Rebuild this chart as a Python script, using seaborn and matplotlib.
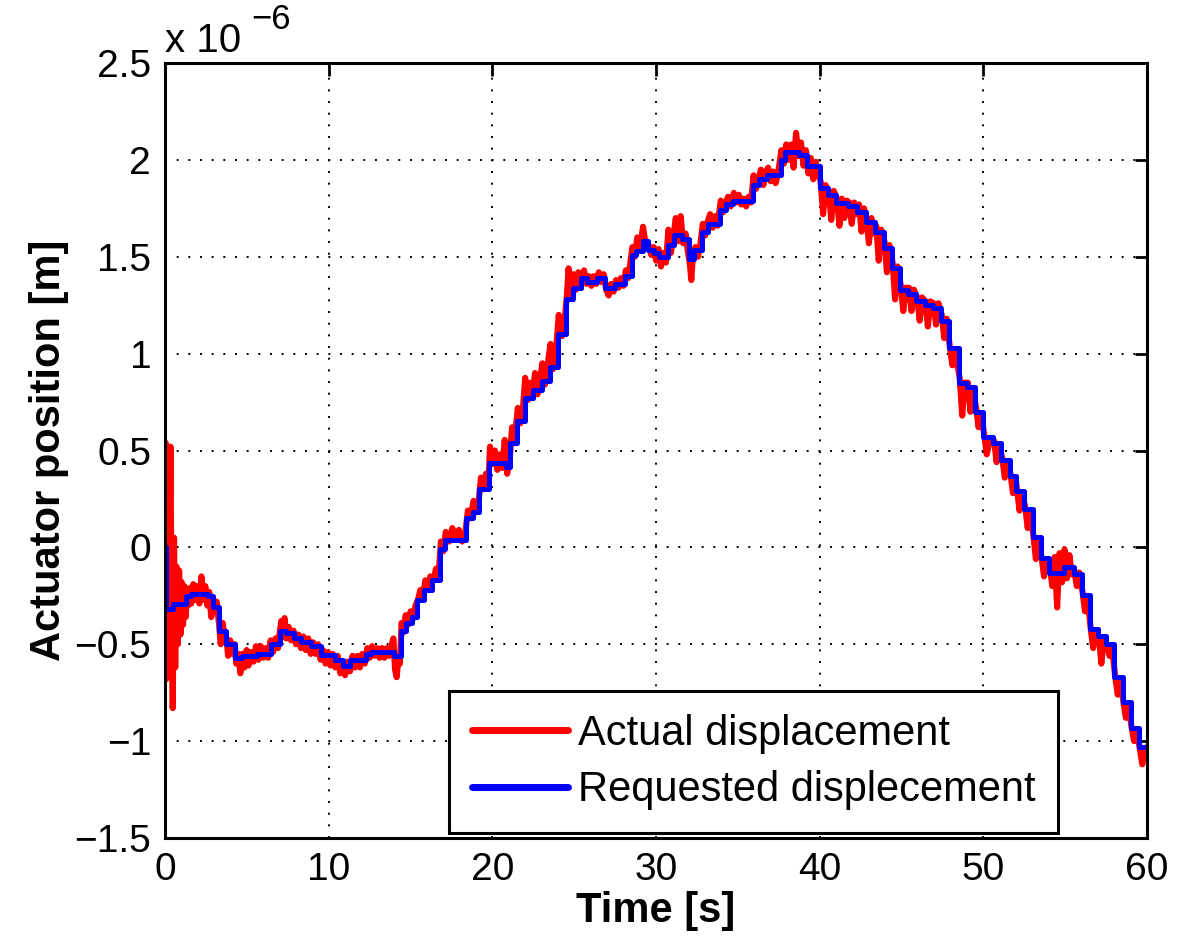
import matplotlib
matplotlib.use("Agg")
import matplotlib.pyplot as plt
import seaborn as sns
import pandas as pd

# ---------------- data (values in units of 1e-6 m) ----------------
req_t = [0.0, 0.05, 0.5, 1.3, 1.6, 2.6, 2.9, 3.3, 3.7, 4.3, 4.7, 5.6, 6.5, 7.0, 7.4, 7.9,
         8.3, 8.9, 9.5, 10.4, 10.9, 11.3, 12.3, 12.6, 14.0, 14.4, 14.7, 15.1, 15.4, 15.8,
         16.3, 16.8, 17.1, 18.4, 18.8, 19.2, 19.8, 20.8, 21.1, 21.5, 22.0, 22.5, 23.0,
         23.5, 24.0, 24.5, 24.9, 25.4, 25.8, 26.4, 26.9, 27.5, 28.1, 28.5, 28.8, 29.2,
         29.5, 29.9, 30.2, 30.7, 31.1, 31.6, 32.0, 32.3, 32.8, 33.2, 33.9, 34.3, 34.7,
         35.9, 36.3, 36.8, 37.6, 37.9, 38.7, 39.2, 40.0, 40.5, 41.0, 41.7, 42.3, 42.8,
         43.4, 43.9, 44.4, 44.9, 45.4, 45.9, 46.4, 46.9, 47.4, 47.9, 48.5, 49.0, 49.5,
         50.0, 50.6, 51.1, 51.6, 52.0, 52.5, 53.0, 53.5, 54.0, 54.9, 55.5, 56.0, 56.5,
         57.0, 57.5, 58.0, 58.5, 59.0, 59.5, 60.0]
req_v = [0.0, -0.32, -0.29, -0.25, -0.24, -0.25, -0.31, -0.43, -0.50, -0.57, -0.56, -0.55,
         -0.50, -0.43, -0.44, -0.47, -0.49, -0.51, -0.555, -0.58, -0.61, -0.58, -0.55, -0.54,
         -0.56, -0.43, -0.39, -0.36, -0.27, -0.22, -0.17, -0.01, 0.04, 0.15, 0.18, 0.30,
         0.435, 0.415, 0.54, 0.65, 0.77, 0.81, 0.86, 0.93, 1.10, 1.28, 1.34, 1.39, 1.37,
         1.39, 1.34, 1.36, 1.40, 1.51, 1.53, 1.58, 1.535, 1.52, 1.50, 1.56, 1.61, 1.59,
         1.49, 1.535, 1.63, 1.67, 1.74, 1.77, 1.79, 1.87, 1.90, 1.92, 2.00, 2.04, 2.025,
         1.97, 1.855, 1.82, 1.78, 1.76, 1.73, 1.68, 1.63, 1.545, 1.44, 1.33, 1.31, 1.27,
         1.25, 1.235, 1.17, 1.03, 0.85, 0.83, 0.70, 0.57, 0.54, 0.45, 0.37, 0.29, 0.20,
         0.055, -0.055, -0.13, -0.10, -0.14, -0.245, -0.42, -0.46, -0.50, -0.67, -0.80,
         -0.93, -1.03, -1.03]

act_t = [0.00, 0.03, 0.07, 0.13, 0.20, 0.27, 0.33, 0.40, 0.47, 0.55, 0.62, 0.70, 0.78, 0.86,
         0.94, 1.02, 1.10, 1.18, 1.26, 1.34, 1.42,
         1.50, 1.60, 1.72, 1.85, 1.98, 2.10, 2.22, 2.34, 2.46, 2.58, 2.70, 2.82, 2.95, 3.05, 3.15,
         3.30, 3.40, 3.52, 3.65, 3.75, 3.85, 3.98, 4.12, 4.25, 4.35, 4.48, 4.60, 4.72, 4.85,
         4.98, 5.10, 5.25, 5.40, 5.55, 5.70, 5.85, 6.00, 6.15, 6.30, 6.45, 6.60, 6.75, 6.90,
         7.00, 7.10, 7.20, 7.30, 7.40, 7.55, 7.70, 7.85, 8.00, 8.15, 8.30, 8.45, 8.60, 8.75,
         8.90, 9.05, 9.20, 9.35, 9.50, 9.65, 9.80, 9.95, 10.10, 10.25,
         10.40, 10.55, 10.70, 10.85, 11.00, 11.15, 11.30, 11.45, 11.60, 11.75, 11.90, 12.05,
         12.20, 12.35, 12.50, 12.65, 12.80, 12.95, 13.10, 13.25, 13.40, 13.55, 13.70, 13.85,
         13.95, 14.05, 14.15, 14.25, 14.35,
         14.45, 14.55, 14.70, 14.85, 15.00, 15.15, 15.30, 15.45, 15.60, 15.75, 15.90, 16.05,
         16.20, 16.40, 16.55, 16.70, 16.85, 17.00, 17.15, 17.35, 17.55, 17.75, 17.95, 18.15,
         18.35, 18.50, 18.65, 18.85, 19.00, 19.15, 19.30, 19.45, 19.60, 19.75,
         19.85, 20.00, 20.15, 20.30, 20.45, 20.60, 20.75, 20.90, 21.05, 21.20, 21.35, 21.55,
         21.70, 21.85, 22.00, 22.15, 22.30, 22.45, 22.60, 22.75, 22.90, 23.05, 23.20, 23.35,
         23.55, 23.70, 23.85, 24.05, 24.25, 24.40,
         24.55, 24.65, 24.80, 24.95, 25.10, 25.25, 25.45, 25.60, 25.75, 25.90, 26.05, 26.20,
         26.35, 26.50, 26.65, 26.80, 26.95, 27.10, 27.25, 27.40, 27.55, 27.70, 27.85, 28.00,
         28.15, 28.30,
         28.55, 28.70, 28.85, 29.00, 29.20, 29.35, 29.55, 29.70, 29.85, 30.00, 30.15, 30.30,
         30.45, 30.60, 30.75, 30.90, 31.05, 31.20, 31.35, 31.50, 31.65, 31.80, 31.95, 32.05,
         32.15, 32.25, 32.40, 32.55, 32.70,
         32.85, 33.00, 33.15, 33.30, 33.45, 33.60, 33.75, 33.95, 34.10, 34.25, 34.40, 34.55,
         34.75, 34.90, 35.05, 35.20, 35.35, 35.50, 35.65, 35.80, 35.95, 36.10, 36.25, 36.40,
         36.55, 36.70, 36.85, 37.00, 37.15, 37.30, 37.45, 37.65, 37.80, 37.95, 38.10, 38.25,
         38.40, 38.55, 38.70, 38.85, 39.00, 39.15, 39.30, 39.45, 39.60, 39.75, 39.90,
         40.05, 40.20, 40.35, 40.55, 40.70, 40.85, 41.05, 41.20, 41.35, 41.50, 41.65, 41.80,
         41.95, 42.10, 42.25, 42.40, 42.55, 42.70, 42.85, 43.00, 43.15, 43.30, 43.45, 43.60,
         43.75, 43.95, 44.10, 44.25, 44.45, 44.60, 44.75, 44.95, 45.10, 45.25, 45.45, 45.60,
         45.75, 45.95, 46.10, 46.25, 46.45, 46.60, 46.75, 46.95, 47.10, 47.25, 47.45, 47.60,
         47.75, 47.95, 48.10, 48.30,
         48.55, 48.70, 48.85, 49.05, 49.20, 49.35, 49.55, 49.70, 49.85, 50.05, 50.20, 50.40,
         50.65, 50.80, 50.95, 51.15, 51.30, 51.45, 51.65, 51.80, 51.95, 52.05, 52.20, 52.35,
         52.55, 52.70, 52.85,
         53.05, 53.20, 53.35, 53.55, 53.70, 53.85, 54.05, 54.20, 54.35, 54.50, 54.65, 54.80,
         54.95, 55.10, 55.25, 55.40, 55.55, 55.70, 55.85, 56.05, 56.20, 56.35,
         56.55, 56.70, 56.85, 57.05, 57.20, 57.35, 57.55, 57.70, 57.85, 58.05, 58.20, 58.35,
         58.55, 58.70, 58.85, 59.05, 59.20, 59.35, 59.55, 59.70, 59.85, 60.00]
act_v = [0.00, 0.54, -0.68, 0.05, -0.50, -0.05, 0.52, -0.35, -0.83, 0.05, -0.62, -0.10, -0.50,
         -0.12, -0.45, -0.18, -0.40, -0.20, -0.36, -0.22, -0.30,
         -0.21, -0.29, -0.19, -0.27, -0.20, -0.29, -0.15, -0.27, -0.20, -0.30, -0.23, -0.36,
         -0.27, -0.33, -0.28,
         -0.40, -0.50, -0.39, -0.47, -0.47, -0.56, -0.48, -0.55, -0.50, -0.60, -0.55, -0.65,
         -0.55, -0.62, -0.53, -0.61, -0.54, -0.59, -0.51, -0.58, -0.51, -0.57, -0.52, -0.57,
         -0.48, -0.54, -0.47, -0.52,
         -0.44, -0.38, -0.46, -0.365, -0.47, -0.41, -0.48, -0.43, -0.50, -0.45, -0.52, -0.46,
         -0.53, -0.47, -0.55, -0.49, -0.55, -0.50, -0.58, -0.53, -0.60, -0.54, -0.61, -0.55,
         -0.62, -0.56, -0.65, -0.60, -0.66, -0.59, -0.64, -0.56, -0.62, -0.56, -0.62, -0.55,
         -0.60, -0.52, -0.57, -0.51, -0.56, -0.52, -0.57, -0.52, -0.57, -0.52, -0.56, -0.50,
         -0.47, -0.63, -0.67, -0.58, -0.60,
         -0.39, -0.44, -0.35, -0.40, -0.33, -0.37, -0.30, -0.27, -0.22, -0.26, -0.17, -0.22,
         -0.15, -0.17, -0.11, -0.16, 0.03, -0.02, 0.08, 0.03, 0.10, 0.04, 0.09, 0.03,
         0.08, 0.19, 0.15, 0.24, 0.18, 0.23, 0.36, 0.30, 0.38, 0.32,
         0.52, 0.43, 0.50, 0.40, 0.48, 0.41, 0.555, 0.38, 0.45, 0.62, 0.55, 0.72,
         0.64, 0.70, 0.875, 0.76, 0.85, 0.77, 0.90, 0.79, 0.86, 0.95, 0.84, 0.93,
         1.05, 0.92, 0.98, 1.20, 1.09, 1.16,
         1.30, 1.44, 1.30, 1.41, 1.33, 1.42, 1.38, 1.43, 1.36, 1.40, 1.35, 1.40,
         1.36, 1.42, 1.37, 1.41, 1.33, 1.30, 1.36, 1.32, 1.38, 1.34, 1.39, 1.35,
         1.43, 1.39,
         1.55, 1.50, 1.60, 1.53, 1.655, 1.57, 1.56, 1.51, 1.55, 1.48, 1.54, 1.45,
         1.52, 1.47, 1.64, 1.52, 1.60, 1.70, 1.58, 1.71, 1.57, 1.62, 1.52, 1.47,
         1.38, 1.51, 1.55, 1.50, 1.56,
         1.67, 1.61, 1.68, 1.72, 1.65, 1.71, 1.66, 1.79, 1.73, 1.78, 1.81, 1.76,
         1.83, 1.78, 1.82, 1.77, 1.80, 1.76, 1.81, 1.78, 1.92, 1.85, 1.90, 1.95,
         1.87, 1.94, 1.96, 1.89, 1.94, 1.88, 1.93, 2.05, 1.98, 2.08, 2.00, 2.08,
         1.96, 2.14, 2.02, 2.09, 1.97, 2.05, 1.93, 2.01, 1.90, 1.99, 1.93,
         1.89, 1.72, 1.87, 1.84, 1.69, 1.84, 1.80, 1.66, 1.80, 1.70, 1.79, 1.78,
         1.67, 1.78, 1.72, 1.77, 1.63, 1.75, 1.70, 1.57, 1.70, 1.62, 1.66, 1.48,
         1.64, 1.58, 1.42, 1.56, 1.47, 1.28, 1.45, 1.35, 1.22, 1.34, 1.34, 1.22,
         1.33, 1.29, 1.17, 1.29, 1.27, 1.14, 1.27, 1.26, 1.15, 1.26, 1.20, 1.08,
         1.18, 1.03, 0.94, 1.00,
         0.87, 0.68, 0.85, 0.85, 0.70, 0.82, 0.72, 0.62, 0.69, 0.58, 0.48, 0.56,
         0.55, 0.44, 0.53, 0.46, 0.36, 0.44, 0.38, 0.28, 0.36, 0.30, 0.19, 0.28,
         0.21, 0.10, 0.19,
         0.06, -0.06, 0.04, -0.05, -0.15, -0.07, -0.09, -0.20, -0.05, -0.31, -0.03, -0.18,
         -0.01, -0.16, -0.04, -0.14, -0.12, -0.20, -0.13, -0.23, -0.33, -0.25,
         -0.42, -0.52, -0.43, -0.46, -0.60, -0.47, -0.50, -0.56, -0.51, -0.67, -0.76, -0.68,
         -0.80, -0.88, -0.81, -0.93, -1.00, -0.94, -1.04, -1.12, -1.05, -1.03]

x_ticks = [0, 10, 20, 30, 40, 50, 60]
y_ticks = [-1.5, -1.0, -0.5, 0.0, 0.5, 1.0, 1.5, 2.0, 2.5]
y_tick_labels = ["\u22121.5", "\u22121", "\u22120.5", "0", "0.5", "1", "1.5", "2", "2.5"]
labels = ["Actual displacement", "Requested displecement"]

# ---------------- plotting ----------------
sns.set_style("white")
plt.rcParams["font.family"] = ["Liberation Sans", "DejaVu Sans"]
plt.rcParams["text.color"] = "black"
plt.rcParams["axes.labelcolor"] = "black"
plt.rcParams["xtick.color"] = "black"
plt.rcParams["ytick.color"] = "black"

fig = plt.figure(figsize=(11.79, 9.41), dpi=100)
ax = fig.add_axes([0.14, 0.1095, 0.833, 0.8235])

df_act = pd.DataFrame({"t": act_t, "v": act_v})
df_req = pd.DataFrame({"t": req_t, "v": req_v})

sns.lineplot(data=df_act, x="t", y="v", ax=ax, color=(1, 0, 0), lw=4.4,
             estimator=None, sort=False, label=labels[0], zorder=3)
sns.lineplot(data=df_req, x="t", y="v", ax=ax, color=(0, 0, 1), lw=3.6,
             estimator=None, sort=False, drawstyle="steps-post", label=labels[1], zorder=4)

ax.set_xlim(0, 60)
ax.set_ylim(-1.5, 2.5)
ax.set_xticks(x_ticks)
ax.set_xticklabels([str(v) for v in x_ticks])
ax.set_yticks(y_ticks)
ax.set_yticklabels(y_tick_labels)

ax.grid(True, color="black", linestyle=(0, (1, 5)), linewidth=1.4)
ax.set_axisbelow(True)
for s in ax.spines.values():
    s.set_color("black")
    s.set_linewidth(2.2)
    s.set_zorder(6)

ax.tick_params(axis="both", which="major", direction="in", length=9, width=2,
               labelsize=28, colors="black", top=True, right=True, pad=10)

ax.set_xlabel("Time [s]", fontsize=30, fontweight="bold", labelpad=2, color="black")
ax.set_ylabel("Actuator position [m]", fontsize=30, fontweight="bold", labelpad=4, color="black")

ax.text(0.0, 1.004, "x 10", transform=ax.transAxes, fontsize=29,
        ha="left", va="bottom", color="black")
ax.text(0.088, 1.035, "\u22126", transform=ax.transAxes, fontsize=25,
        ha="left", va="bottom", color="black")

leg = ax.legend(loc="lower left", bbox_to_anchor=(0.289, 0.006), borderaxespad=0,
                fontsize=30, frameon=True, fancybox=False, handlelength=2.3,
                handletextpad=0.25, borderpad=0.55, labelspacing=0.4)
leg.get_frame().set_edgecolor("black")
leg.get_frame().set_linewidth(2.2)
leg.get_frame().set_facecolor("white")
leg.get_frame().set_alpha(1)
leg.set_zorder(10)
for h in leg.get_lines():
    h.set_linewidth(5)
for txt in leg.get_texts():
    txt.set_color("black")

fig.savefig("out.png", dpi=100, facecolor="white")
